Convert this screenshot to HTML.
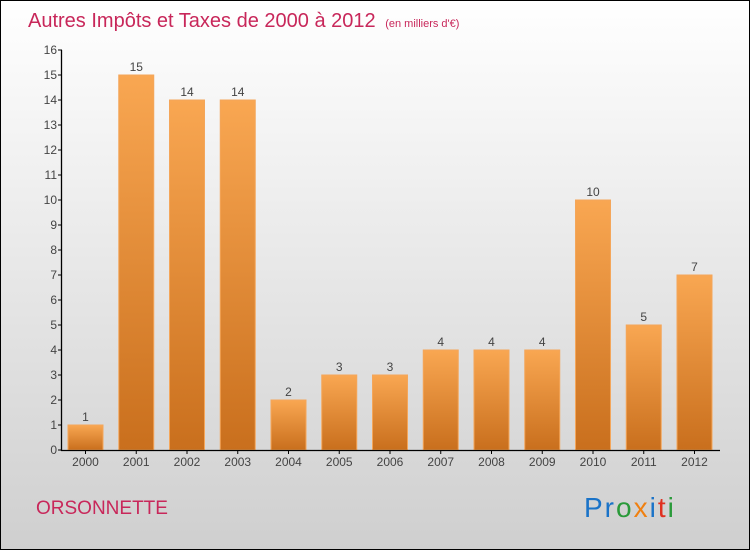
<!DOCTYPE html>
<html><head><meta charset="utf-8"><style>
body{margin:0;width:750px;height:550px;overflow:hidden}
svg{display:block;font-family:"Liberation Sans",sans-serif}
</style></head><body>
<svg id="c" width="750" height="550">
<defs>
<linearGradient id="bg" x1="0" y1="0" x2="0" y2="1"><stop offset="0" stop-color="#ffffff"/><stop offset="1" stop-color="#cfcfcf"/></linearGradient>
<linearGradient id="bar" x1="0" y1="0" x2="0" y2="1"><stop offset="0" stop-color="#f9a752"/><stop offset="1" stop-color="#c96f1d"/></linearGradient>
</defs>
<rect x="0.5" y="0.5" width="749" height="549" fill="url(#bg)" stroke="#000"/>
<text x="28" y="27" font-size="20" fill="#c8275a">Autres Impôts et Taxes de 2000 à 2012 <tspan font-size="11" dx="4">(en milliers d'€)</tspan></text>
<g id="plot"></g>
<text x="36" y="514" font-size="19" fill="#c8275a">ORSONNETTE</text>
<text x="584" y="517" font-size="28" letter-spacing="2"><tspan fill="#1a73c8">Pr</tspan><tspan fill="#2a9a3a">o</tspan><tspan fill="#f08010">x</tspan><tspan fill="#1a73c8">i</tspan><tspan fill="#e03020">t</tspan><tspan fill="#2a9a3a">i</tspan></text>
</svg>
<script>
const categories=["2000","2001","2002","2003","2004","2005","2006","2007","2008","2009","2010","2011","2012"];
const values=[1,15,14,14,2,3,3,4,4,4,10,5,7];
const yTicks=[0,1,2,3,4,5,6,7,8,9,10,11,12,13,14,15,16];
const NS="http://www.w3.org/2000/svg";
const g=document.getElementById('plot');
const y=v=>450-v*25;
const x=i=>85.5+i*50.75;
function el(t,a){const e=document.createElementNS(NS,t);for(const k in a)e.setAttribute(k,a[k]);g.appendChild(e);return e;}
values.forEach((v,i)=>{
 const r=el('rect',{x:x(i)-17.5,y:y(v),width:35,height:450-y(v),fill:'url(#bar)',stroke:'#f4a65a','stroke-width':1});
 
 
 const t=el('text',{x:x(i),y:y(v)-4,'text-anchor':'middle','font-size':12,fill:'#444'});
 t.textContent=v;
 
 
 const c=el('text',{x:x(i),y:466,'text-anchor':'middle','font-size':12,fill:'#444'});
 c.textContent=categories[i];
 
 
 const tk=el('line',{x1:x(i),x2:x(i),y1:450,y2:454,stroke:'#000'});
 
 
});
yTicks.forEach(v=>{
 const l=el('line',{x1:58,x2:62,y1:y(v),y2:y(v),stroke:'#000'});
 
 
 const t=el('text',{x:57,y:y(v)+4,'text-anchor':'end','font-size':12,fill:'#444'});
 t.textContent=v;
 
 
});
const ya=el('line',{x1:61.5,x2:61.5,y1:50,y2:451,stroke:'#000','stroke-width':1.3});


const xa=el('line',{x1:61,x2:720,y1:450.5,y2:450.5,stroke:'#000','stroke-width':1.3});


</script>
</body></html>
